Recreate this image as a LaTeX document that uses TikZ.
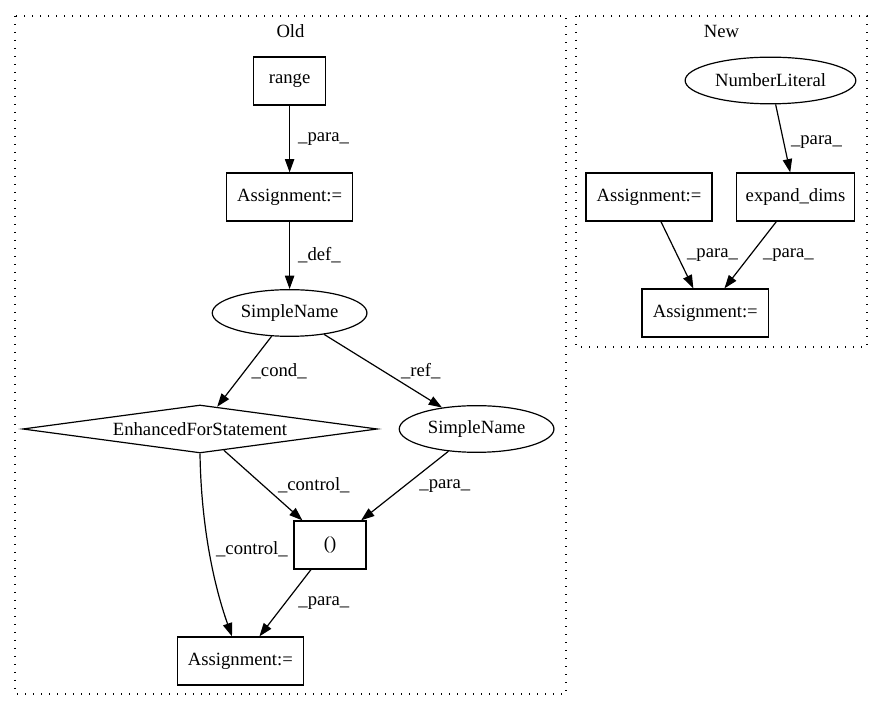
\documentclass[tikz,border=0pt]{standalone}
\usepackage{fontspec}
\setmainfont{Liberation Serif}
\usetikzlibrary{arrows.meta,shapes.geometric}

\begin{document}
\begin{tikzpicture}[x=0.75pt,y=-0.75pt,line width=0.9pt,
	font=\fontsize{14}{16}\selectfont,
	box/.style={draw,rectangle,minimum height=36pt,inner sep=0},
	oval/.style={draw,ellipse,minimum height=35pt,inner sep=0},
	cluster/.style={draw,dash pattern=on 1pt off 5pt},
	edge/.style={-{Triangle[length=10pt,width=7pt]}},
	lbl/.style={anchor=west,inner sep=0,xshift=5pt}]
	\useasboundingbox (0,0) rectangle (883,712);
	\draw[cluster] (15,16) rectangle (566,694);
	\draw[cluster] (576,16) rectangle (867,347);
	\node (old) at (290.5,31) {Old};
	\node (new) at (721.5,31) {New};
	\node[box,minimum width=54pt] (range) at (289.6,81) {range};
	\node[box,minimum width=94.5pt] (asgA) at (289.6,197) {Assignment:=};
	\node[oval,minimum width=116pt] (snA) at (289.6,313) {SimpleName};
	\node[draw,diamond,aspect=7.4,minimum width=266pt,minimum height=36pt,inner sep=0] (efs) at (200,429) {EnhancedForStatement};
	\node[oval,minimum width=116pt] (snB) at (476.6,429) {SimpleName};
	\node[box,minimum width=54pt] (paren) at (330,545) {()};
	\node[box,minimum width=94.5pt] (asgB) at (240.4,661) {Assignment:=};
	\node[oval,minimum width=128pt] (numlit) at (770.5,80.5) {NumberLiteral};
	\node[box,minimum width=94.5pt] (asgC) at (649,197) {Assignment:=};
	\node[box,minimum width=89pt] (expd) at (795.5,197) {expand\_dims};
	\node[box,minimum width=95pt] (asgD) at (705.3,313) {Assignment:=};
	\draw[edge] (range) -- node[lbl,xshift=1pt] {\_para\_} (asgA);
	\draw[edge] (asgA) -- node[lbl,xshift=1pt] {\_def\_} (snA);
	\draw[edge] (snA) -- node[lbl] {\_cond\_} (efs);
	\draw[edge] (snA) -- node[lbl,xshift=8pt] {\_ref\_} (snB);
	\draw[edge] (efs) -- node[lbl,xshift=5.7pt] {\_control\_} (paren);
	\draw[edge] (snB) -- node[lbl,xshift=5.6pt] {\_para\_} (paren);
	\draw[edge] (efs.south) .. controls (201,520) and (212,580) .. node[lbl,pos=.5] {\_control\_} ([xshift=-6.3pt]asgB.north);
	\draw[edge] (paren) -- node[lbl,xshift=4.5pt] {\_para\_} (asgB);
	\draw[edge] (numlit) -- node[lbl,pos=.56,xshift=0pt] {\_para\_} (expd);
	\draw[edge] (asgC) -- node[lbl,xshift=2pt] {\_para\_} (asgD);
	\draw[edge] (expd) -- node[lbl,xshift=4pt] {\_para\_} (asgD);
\end{tikzpicture}
\end{document}
